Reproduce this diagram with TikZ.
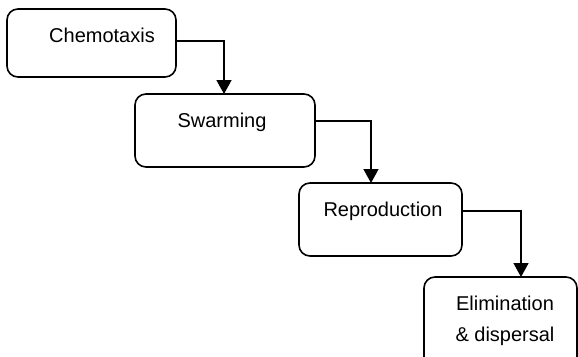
\documentclass[tikz,border=0pt]{standalone}
\usepackage{fontspec}
\setmainfont{Liberation Sans}
\usetikzlibrary{arrows.meta}
\begin{document}
\begin{tikzpicture}[x=1pt,y=-1pt,
  stagebox/.style={draw=black, line width=1.6pt, rounded corners=11pt, inner sep=0pt},
  lbl/.style={anchor=base, inner sep=0pt, font=\fontsize{20}{31}\selectfont},
  conn/.style={draw=black, line width=1.6pt, -{Triangle[width=15pt,length=14pt]}}]
\useasboundingbox (0,0) rectangle (578,356);
\node[stagebox, minimum width=169pt, minimum height=68pt] (b1) at (91.5,43) {};
\node[stagebox, minimum width=180pt, minimum height=73pt] (b2) at (225,130.5) {};
\node[stagebox, minimum width=163pt, minimum height=73pt] (b3) at (380.5,219.5) {};
\node[stagebox, minimum width=153pt, minimum height=100pt] (b4) at (500.5,327) {};
\node[lbl] (t1) at (102,42) {Chemotaxis};
\node[lbl] (t2) at (222,127) {Swarming};
\node[lbl] (t3) at (383,216.5) {Reproduction};
\node[lbl] (t4) at (505,310) {Elimination};
\node[lbl] (t5) at (505,341) {\& dispersal};
\coordinate (s1) at (176,41);
\coordinate (e1) at (224,94);
\coordinate (s2) at (315,121);
\coordinate (e2) at (371,183);
\coordinate (s3) at (462,211);
\coordinate (e3) at (521,277);
\draw[conn] (s1) -| (e1);
\draw[conn] (s2) -| (e2);
\draw[conn] (s3) -| (e3);
\end{tikzpicture}
\end{document}
